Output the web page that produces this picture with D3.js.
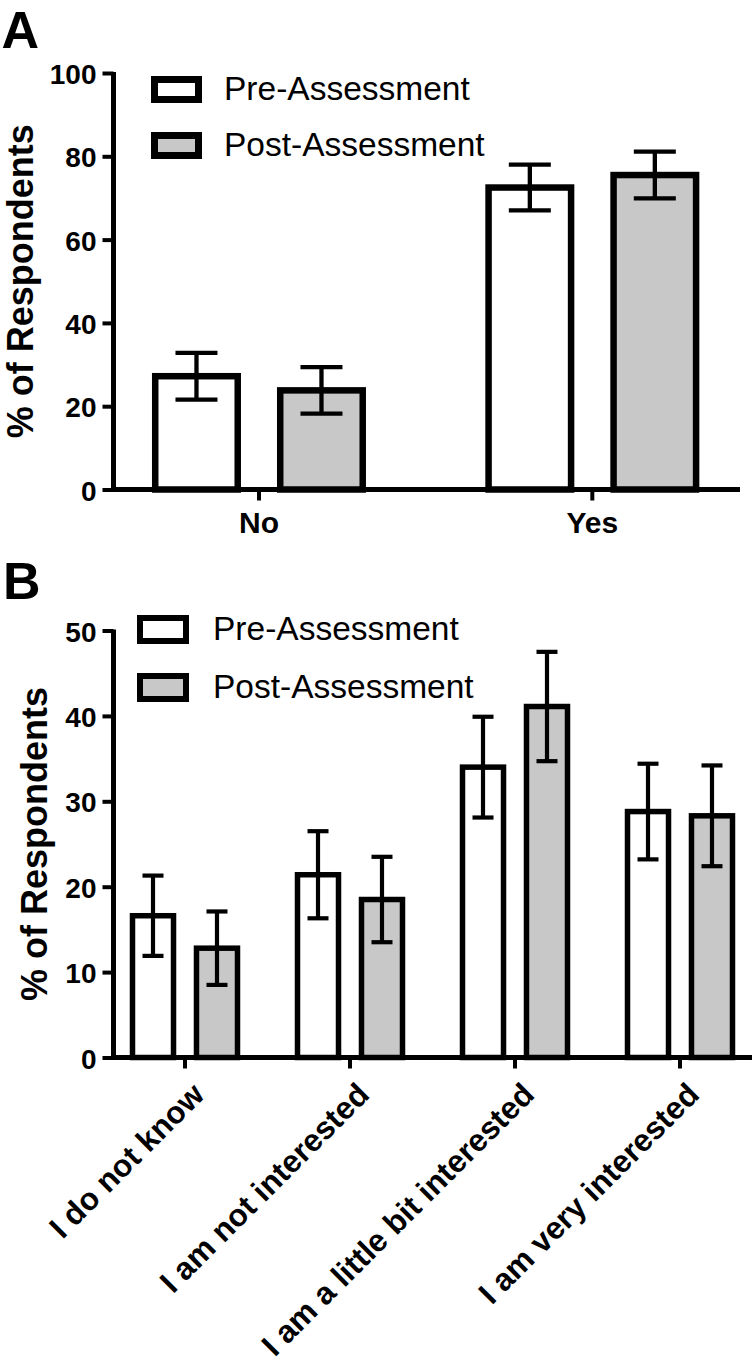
<!DOCTYPE html>
<html>
<head>
<meta charset="utf-8">
<script src="https://cdn.jsdelivr.net/npm/d3@7"></script>
<style>
  html, body { margin: 0; padding: 0; background: #ffffff; }
  svg { display: block; }
  text { font-family: "Liberation Sans", Arial, Helvetica, sans-serif; fill: #000; }
</style>
</head>
<body>
<svg id="chart" width="756" height="1364"></svg>
<script>
// ---------------- data ----------------
const seriesNames = ["Pre-Assessment", "Post-Assessment"];
const seriesFills = ["#ffffff", "#c8c8c8"];

// Panel A
const categoriesA = ["No", "Yes"];
const preA = [27.2, 72.5];
const postA = [23.8, 75.5];
const preAErr = [5.6, 5.5];
const postAErr = [5.6, 5.6];
const ticksA = [0, 20, 40, 60, 80, 100];

// Panel B
const categoriesB = ["I do not know", "I am not interested", "I am a little bit interested", "I am very interested"];
const preB = [16.6, 21.4, 34.0, 28.8];
const postB = [12.8, 18.5, 41.1, 28.3];
const preBErr = [4.7, 5.1, 5.9, 5.6];
const postBErr = [4.3, 5.0, 6.4, 5.9];
const ticksB = [0, 10, 20, 30, 40, 50];

const yTitle = "% of Respondents";

// ---------------- drawing ----------------
const svg = d3.select("#chart");
svg.append("rect").attr("width", 756).attr("height", 1364).attr("fill", "#fff");

function panel(cfg) {
  const g = svg.append("g");
  const x0 = d3.scaleBand().domain(cfg.categories).range(cfg.xRange).paddingInner(0).paddingOuter(0);
  const x1 = d3.scaleBand().domain(seriesNames).range([-cfg.groupHalf, cfg.groupHalf]).paddingInner(cfg.innerPad).paddingOuter(0);
  const y = d3.scaleLinear().domain(cfg.yDomain).range(cfg.yRange);

  const rows = [];
  cfg.categories.forEach((c, i) => {
    seriesNames.forEach((s, j) => {
      rows.push({ c, s, j, v: cfg.values[j][i], e: cfg.errors[j][i] });
    });
  });
  const cx = d => x0(d.c) + x0.bandwidth() / 2 + x1(d.s);

  // bars
  g.selectAll("rect.bar").data(rows).join("rect")
    .attr("class", "bar")
    .attr("x", d => cx(d))
    .attr("width", x1.bandwidth())
    .attr("y", d => y(d.v))
    .attr("height", d => y(0) - y(d.v))
    .attr("fill", d => seriesFills[d.j])
    .attr("stroke", "#000")
    .attr("stroke-width", cfg.barStroke);

  // error bars
  const eb = g.selectAll("g.err").data(rows).join("g").attr("class", "err")
    .attr("stroke", "#000").attr("stroke-width", cfg.errStroke);
  const mid = d => cx(d) + x1.bandwidth() / 2;
  eb.append("line")
    .attr("x1", mid).attr("x2", mid)
    .attr("y1", d => y(d.v + d.e)).attr("y2", d => y(d.v - d.e));
  eb.append("line")
    .attr("x1", d => mid(d) - cfg.capW / 2).attr("x2", d => mid(d) + cfg.capW / 2)
    .attr("y1", d => y(d.v + d.e)).attr("y2", d => y(d.v + d.e));
  eb.append("line")
    .attr("x1", d => mid(d) - cfg.capW / 2).attr("x2", d => mid(d) + cfg.capW / 2)
    .attr("y1", d => y(d.v - d.e)).attr("y2", d => y(d.v - d.e));

  // y axis
  const yAxis = g.append("g")
    .attr("transform", `translate(${cfg.axisX},0)`)
    .call(d3.axisLeft(y).tickValues(cfg.ticks).tickSize(11).tickSizeOuter(0).tickPadding(6));
  yAxis.select(".domain").remove();
  yAxis.selectAll(".tick line").attr("stroke", "#000").attr("stroke-width", 4);
  yAxis.selectAll(".tick text")
    .attr("font-family", "Liberation Sans, Arial, sans-serif")
    .attr("font-size", 28).attr("font-weight", "bold").attr("dy", "0.38em");
  g.append("line")
    .attr("x1", cfg.axisX).attr("x2", cfg.axisX)
    .attr("y1", y(cfg.yDomain[1]) - 1).attr("y2", y(0) + 2.5)
    .attr("stroke", "#000").attr("stroke-width", 5);

  // x axis
  const xAxis = g.append("g")
    .attr("transform", `translate(0,${y(0)})`)
    .call(d3.axisBottom(x0).tickSize(11).tickSizeOuter(0).tickPadding(11));
  xAxis.select(".domain").remove();
  xAxis.selectAll(".tick line").attr("stroke", "#000").attr("stroke-width", 4);
  if (cfg.rotateLabels) {
    xAxis.selectAll(".tick text").remove();
    xAxis.selectAll(".tick").append("text")
      .attr("transform", "translate(21,39) rotate(-45)")
      .attr("text-anchor", "end")
      .attr("font-family", "Liberation Sans, Arial, sans-serif")
      .attr("font-size", 31.5).attr("font-weight", "bold")
      .attr("fill", "#000")
      .text(d => d);
  } else {
    xAxis.selectAll(".tick text")
      .attr("font-family", "Liberation Sans, Arial, sans-serif")
      .attr("font-size", 30).attr("font-weight", "bold");
  }
  g.append("line")
    .attr("x1", cfg.axisX - 2.5).attr("x2", cfg.xAxisEnd)
    .attr("y1", y(0)).attr("y2", y(0))
    .attr("stroke", "#000").attr("stroke-width", 5);

  // y title
  const ym = (y(cfg.yDomain[0]) + y(cfg.yDomain[1])) / 2;
  g.append("text")
    .attr("transform", `translate(${cfg.titleX},${ym}) rotate(-90)`)
    .attr("text-anchor", "middle")
    .attr("font-size", 36).attr("font-weight", "bold")
    .text(yTitle);

  // legend
  seriesNames.forEach((s, j) => {
    const L = cfg.legend;
    g.append("rect")
      .attr("x", L.x).attr("y", L.ys[j])
      .attr("width", L.w).attr("height", L.h)
      .attr("fill", seriesFills[j]).attr("stroke", "#000").attr("stroke-width", L.sw);
    g.append("text")
      .attr("x", L.tx).attr("y", L.tys[j])
      .attr("font-size", 33.5)
      .text(s);
  });

  // panel letter
  g.append("text")
    .attr("x", cfg.letterPos[0]).attr("y", cfg.letterPos[1])
    .attr("font-size", 52).attr("font-weight", "bold")
    .text(cfg.letter);
}

panel({
  letter: "A", letterPos: [1.5, 47.5],
  categories: categoriesA,
  values: [preA, postA], errors: [preAErr, postAErr],
  ticks: ticksA, yDomain: [0, 100], yRange: [489.5, 73],
  xRange: [92.3, 759], groupHalf: 103.75, innerPad: 0.34,
  barStroke: 6.5, errStroke: 4.3, capW: 42,
  axisX: 113.5, xAxisEnd: 740, titleX: 33,
  rotateLabels: false,
  legend: { x: 154.5, ys: [79.5, 135.5], w: 44, h: 20, sw: 7, tx: 224, tys: [100, 156] }
});

panel({
  letter: "B", letterPos: [3, 599],
  categories: categoriesB,
  values: [preB, postB], errors: [preBErr, postBErr],
  ticks: ticksB, yDomain: [0, 50], yRange: [1057.5, 630.5],
  xRange: [102.5, 762.5], groupHalf: 52.5, innerPad: 0.359,
  barStroke: 5.5, errStroke: 4.2, capW: 21,
  axisX: 113.5, xAxisEnd: 752, titleX: 47,
  rotateLabels: true,
  legend: { x: 140, ys: [618, 676], w: 46, h: 23, sw: 6, tx: 213, tys: [640, 698] }
});
</script>
</body>
</html>
